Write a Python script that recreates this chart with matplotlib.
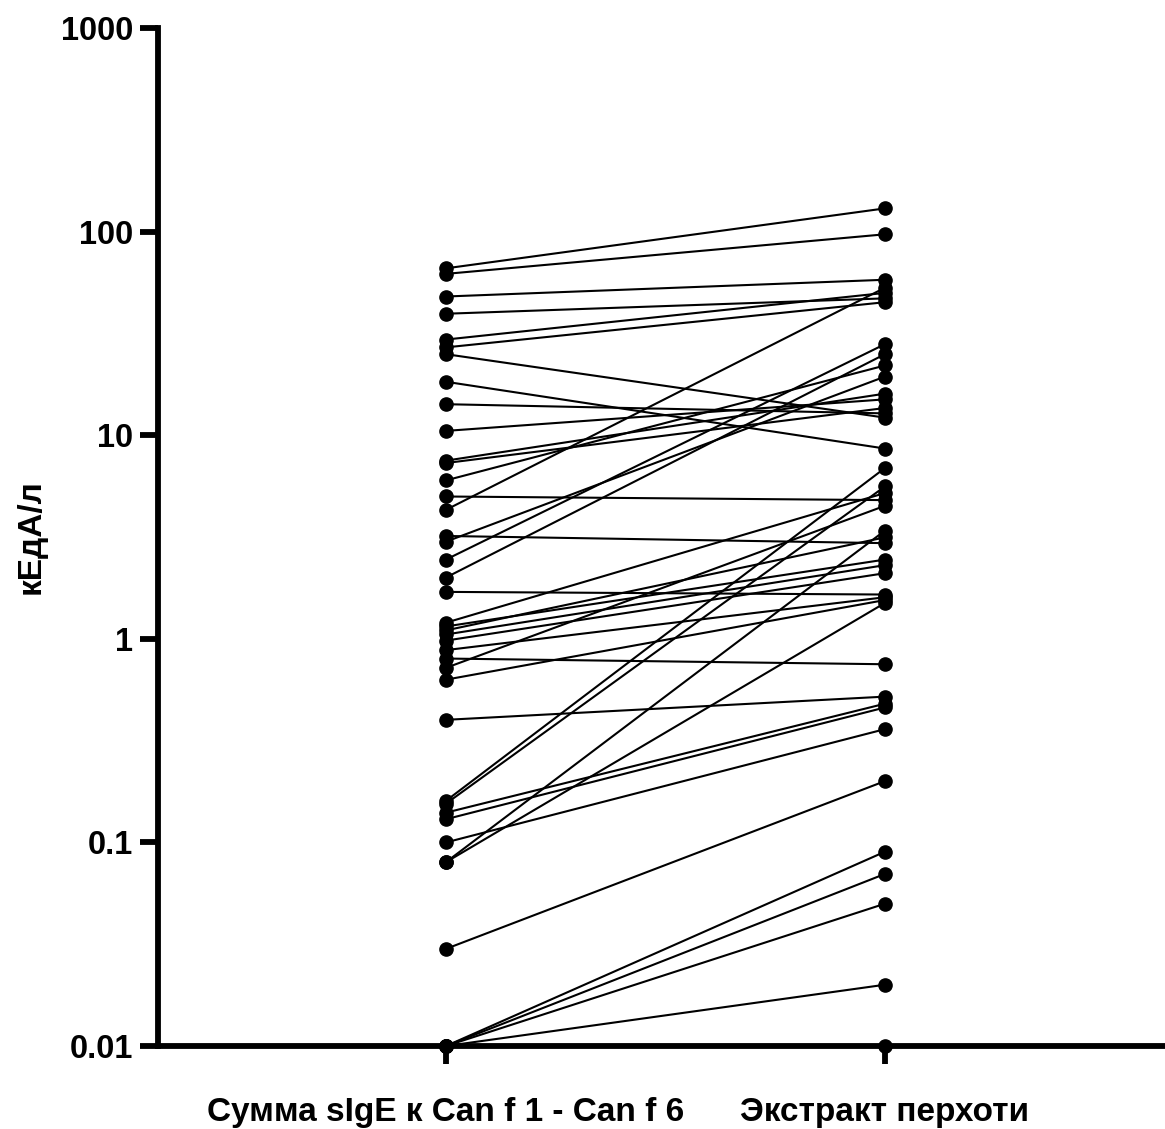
import matplotlib
matplotlib.use('Agg')
import matplotlib.pyplot as plt
from matplotlib.ticker import FixedLocator, NullLocator

# Категории и парные значения (кЕдА/л)
categories = ["Сумма sIgE к Can f 1 - Can f 6", "Экстракт перхоти"]
sum_sige = [66, 62, 48, 39.5, 29.5, 27, 25, 18.3, 14.2, 10.5,
            7.5, 7.3, 6.0, 5.0, 4.3, 3.2, 3.0, 2.45, 2.0, 1.7,
            1.2, 1.15, 1.1, 1.05, 0.98, 0.88, 0.8, 0.72, 0.63, 0.40,
            0.16, 0.155, 0.14, 0.13, 0.10, 0.08, 0.08, 0.03,
            0.01, 0.01, 0.01, 0.01, 0.01]
extract = [130, 97, 58, 47, 50, 45, 12.2, 8.6, 12.8, 15,
           16, 13.6, 22, 4.8, 53, 2.95, 19.4, 28, 25, 1.65,
           5.2, 2.45, 3.15, 2.3, 2.1, 1.6, 0.75, 4.5, 1.55, 0.52,
           6.9, 5.6, 0.48, 0.46, 0.36, 3.4, 1.5, 0.2,
           0.09, 0.07, 0.05, 0.02, 0.01]
yticks = [0.01, 0.1, 1, 10, 100, 1000]
ytick_labels = ["0.01", "0.1", "1", "10", "100", "1000"]

plt.rcParams['font.family'] = ['Liberation Sans', 'DejaVu Sans']
plt.rcParams['font.weight'] = 'bold'

fig = plt.figure(figsize=(11.65, 11.29), dpi=100)
ax = fig.add_axes([0.1356, 0.0735, 1 - 0.1356, 0.9017])

for a, b in zip(sum_sige, extract):
    ax.plot([0, 1], [a, b], color='black', linewidth=1.5,
            marker='o', markersize=9.5, clip_on=False, zorder=2)

ax.set_yscale('log')
ax.set_ylim(0.01, 1000)
ax.set_xlim(-0.656, 1.638)
ax.yaxis.set_major_locator(FixedLocator(yticks))
ax.yaxis.set_minor_locator(NullLocator())
ax.set_yticklabels(ytick_labels)
ax.set_xticks([0, 1])
ax.set_xticklabels(categories)

for side in ['top', 'right']:
    ax.spines[side].set_visible(False)
for side in ['left', 'bottom']:
    ax.spines[side].set_linewidth(4.2)
    ax.spines[side].set_zorder(3)

ax.tick_params(axis='y', length=13, width=4.2, labelsize=23.5, pad=5)
ax.tick_params(axis='x', length=13, width=4.2, labelsize=24, pad=24)
ax.set_ylabel("кЕдА/л", fontsize=24, fontweight='bold', labelpad=10)

plt.savefig('out.png', dpi=100)
